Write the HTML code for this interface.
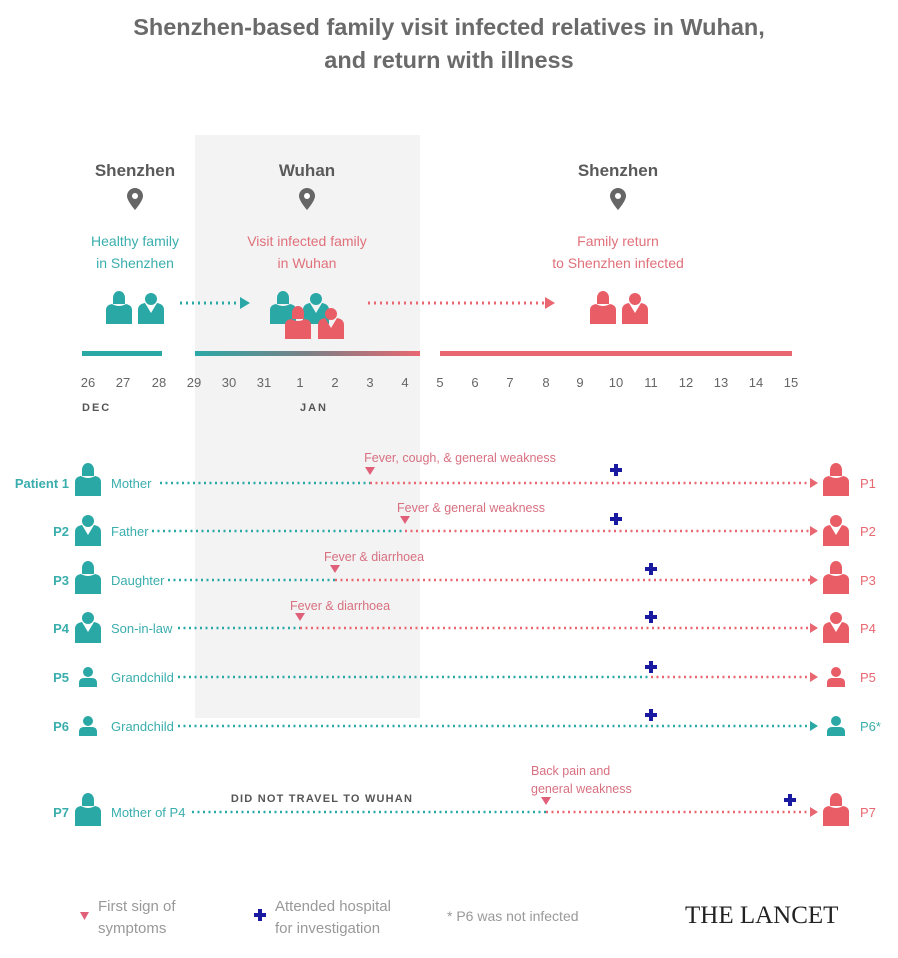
<!DOCTYPE html>
<html><head><meta charset="utf-8"><style>
body{margin:0;background:#fff}
svg{display:block}
text{font-family:"Liberation Sans",sans-serif}
text.serif{font-family:"Liberation Serif",serif}
</style></head><body>
<svg width="898" height="958" viewBox="0 0 898 958" xmlns="http://www.w3.org/2000/svg">
<defs>
<linearGradient id="g" x1="0" x2="1"><stop offset="0" stop-color="#2aa8a6"/><stop offset="0.5" stop-color="#7a7f86"/><stop offset="1" stop-color="#e86770"/></linearGradient>
<g id="pin"><path d="M0,-12a8,8 0 0 1 8,8c0,5 -8,14 -8,14c0,0 -8,-9 -8,-14a8,8 0 0 1 8,-8z" fill="#666"/><circle cx="0" cy="-4" r="3" fill="#fff"/></g>
<g id="woman"><path d="M-6,-10a6,7 0 0 1 12,0v6h-12z"/><path d="M-13,2q0,-5 6,-6q7,4 14,0q6,1 6,6v14h-26z"/></g>
<g id="man"><circle cx="0" cy="-9" r="6"/><path d="M-13,2q0,-6 7,-7l6,10l6,-10q7,1 7,7v14h-26z"/></g>
<g id="child"><circle cx="0" cy="-5" r="5"/><path d="M-9,10v-4q0,-5 5,-5h8q5,0 5,5v4z"/></g>
</defs>
<rect x="195" y="135" width="225" height="583" fill="#f3f3f4"/>
<text x="449" y="35" text-anchor="middle" font-size="23.5" font-weight="bold" fill="#6a6a6a">Shenzhen-based family visit infected relatives in Wuhan,</text>
<text x="449" y="68" text-anchor="middle" font-size="23.5" font-weight="bold" fill="#6a6a6a">and return with illness</text>
<g font-size="17" font-weight="bold" fill="#5a5a5a" text-anchor="middle">
<text x="135" y="176">Shenzhen</text><text x="307" y="176">Wuhan</text><text x="618" y="176">Shenzhen</text></g>
<use href="#pin" x="135" y="200"/><use href="#pin" x="307" y="200"/><use href="#pin" x="618" y="200"/>
<g font-size="14" text-anchor="middle">
<text x="135" y="246" fill="#3aaead">Healthy family</text><text x="135" y="268" fill="#3aaead">in Shenzhen</text>
<text x="307" y="246" fill="#e0707a">Visit infected family</text><text x="307" y="268" fill="#e0707a">in Wuhan</text>
<text x="618" y="246" fill="#e0707a">Family return</text><text x="618" y="268" fill="#e0707a">to Shenzhen infected</text></g>
<g fill="#2aa8a6"><use href="#woman" x="119" y="308"/><use href="#man" x="151" y="308"/><use href="#woman" x="283" y="308"/><use href="#man" x="316" y="308"/></g>
<g fill="#e85d66"><use href="#woman" x="298" y="323"/><use href="#man" x="331" y="323"/><use href="#woman" x="603" y="308"/><use href="#man" x="635" y="308"/></g>
<line x1="180" y1="303" x2="240" y2="303" stroke="#2aa8a6" stroke-width="3" stroke-dasharray="2 4"/><path d="M240,297l10,6l-10,6z" fill="#2aa8a6"/>
<line x1="368" y1="303" x2="545" y2="303" stroke="#e86770" stroke-width="3" stroke-dasharray="2 4"/><path d="M545,297l10,6l-10,6z" fill="#e86770"/>
<rect x="82" y="351" width="80" height="5" fill="#2aa8a6"/>
<rect x="195" y="351" width="225" height="5" fill="url(#g)"/>
<rect x="440" y="351" width="352" height="5" fill="#e86770"/>
<g font-size="13" fill="#666" text-anchor="middle">
<text x="88" y="387">26</text><text x="123" y="387">27</text><text x="159" y="387">28</text><text x="194" y="387">29</text><text x="229" y="387">30</text><text x="264" y="387">31</text><text x="300" y="387">1</text><text x="335" y="387">2</text><text x="370" y="387">3</text><text x="405" y="387">4</text><text x="440" y="387">5</text><text x="475" y="387">6</text><text x="510" y="387">7</text><text x="546" y="387">8</text><text x="580" y="387">9</text><text x="616" y="387">10</text><text x="651" y="387">11</text><text x="686" y="387">12</text><text x="721" y="387">13</text><text x="756" y="387">14</text><text x="791" y="387">15</text></g>
<text x="82" y="411" font-size="11" font-weight="bold" fill="#555" letter-spacing="2">DEC</text>
<text x="300" y="411" font-size="11" font-weight="bold" fill="#555" letter-spacing="2">JAN</text>
<g stroke-width="2.5" stroke-dasharray="2 3.5">
<line x1="160" y1="483" x2="370" y2="483" stroke="#2aa8a6"/><line x1="370" y1="483" x2="810" y2="483" stroke="#e86770"/>
<line x1="152" y1="531" x2="405" y2="531" stroke="#2aa8a6"/><line x1="405" y1="531" x2="810" y2="531" stroke="#e86770"/>
<line x1="168" y1="580" x2="335" y2="580" stroke="#2aa8a6"/><line x1="335" y1="580" x2="810" y2="580" stroke="#e86770"/>
<line x1="178" y1="628" x2="300" y2="628" stroke="#2aa8a6"/><line x1="300" y1="628" x2="810" y2="628" stroke="#e86770"/>
<line x1="178" y1="677" x2="651" y2="677" stroke="#2aa8a6"/><line x1="651" y1="677" x2="810" y2="677" stroke="#e86770"/>
<line x1="178" y1="726" x2="810" y2="726" stroke="#2aa8a6"/>
<line x1="192" y1="812" x2="546" y2="812" stroke="#2aa8a6"/><line x1="546" y1="812" x2="810" y2="812" stroke="#e86770"/>
</g>
<g fill="#e86770"><path d="M810,478l8,5l-8,5z"/><path d="M810,526l8,5l-8,5z"/><path d="M810,575l8,5l-8,5z"/><path d="M810,623l8,5l-8,5z"/><path d="M810,672l8,5l-8,5z"/><path d="M810,807l8,5l-8,5z"/></g>
<path d="M810,721l8,5l-8,5z" fill="#2aa8a6"/>
<g fill="#e0607a"><path d="M365,467h10l-5,8z"/><path d="M400,516h10l-5,8z"/><path d="M330,565h10l-5,8z"/><path d="M295,613h10l-5,8z"/><path d="M541,797h10l-5,8z"/></g>
<g font-size="12.5" fill="#d87080" text-anchor="middle">
<text x="460" y="462">Fever, cough, &amp; general weakness</text>
<text x="471" y="512">Fever &amp; general weakness</text>
<text x="374" y="561">Fever &amp; diarrhoea</text>
<text x="340" y="610">Fever &amp; diarrhoea</text>
<text x="531" y="775" text-anchor="start">Back pain and</text>
<text x="531" y="793" text-anchor="start">general weakness</text></g>
<text x="322" y="802" text-anchor="middle" font-size="11" font-weight="bold" fill="#555" letter-spacing="1.2">DID NOT TRAVEL TO WUHAN</text>
<g fill="#1a1aa0">
<path d="M614,464h4v4h4v4h-4v4h-4v-4h-4v-4h4z"/><path d="M614,513h4v4h4v4h-4v4h-4v-4h-4v-4h4z"/>
<path d="M649,563h4v4h4v4h-4v4h-4v-4h-4v-4h4z"/><path d="M649,611h4v4h4v4h-4v4h-4v-4h-4v-4h4z"/>
<path d="M649,661h4v4h4v4h-4v4h-4v-4h-4v-4h4z"/><path d="M649,709h4v4h4v4h-4v4h-4v-4h-4v-4h4z"/>
<path d="M788,794h4v4h4v4h-4v4h-4v-4h-4v-4h4z"/><path d="M258,909h4v4h4v4h-4v4h-4v-4h-4v-4h4z"/></g>
<g fill="#2aa8a6"><use href="#woman" x="88" y="480"/><use href="#man" x="88" y="530"/><use href="#woman" x="88" y="578"/><use href="#man" x="88" y="627"/><use href="#child" x="88" y="677"/><use href="#child" x="88" y="726"/><use href="#woman" x="88" y="810"/><use href="#child" x="836" y="726"/></g>
<g fill="#e85d66"><use href="#woman" x="836" y="480"/><use href="#man" x="836" y="530"/><use href="#woman" x="836" y="578"/><use href="#man" x="836" y="627"/><use href="#child" x="836" y="677"/><use href="#woman" x="836" y="810"/></g>
<g font-size="13" font-weight="bold" fill="#3aaead" text-anchor="end">
<text x="69" y="488">Patient 1</text><text x="69" y="536">P2</text><text x="69" y="585">P3</text><text x="69" y="633">P4</text><text x="69" y="682">P5</text><text x="69" y="731">P6</text><text x="69" y="817">P7</text></g>
<g font-size="13" fill="#3aaead">
<text x="111" y="488">Mother</text><text x="111" y="536">Father</text><text x="111" y="585">Daughter</text><text x="111" y="633">Son-in-law</text><text x="111" y="682">Grandchild</text><text x="111" y="731">Grandchild</text><text x="111" y="817">Mother of P4</text>
<text x="860" y="731">P6*</text></g>
<g font-size="13" fill="#e86770"><text x="860" y="488">P1</text><text x="860" y="536">P2</text><text x="860" y="585">P3</text><text x="860" y="633">P4</text><text x="860" y="682">P5</text><text x="860" y="817">P7</text></g>
<path d="M80,912h9l-4.5,8z" fill="#e0607a"/>
<g font-size="15" fill="#999"><text x="98" y="911">First sign of</text><text x="98" y="933">symptoms</text>
<text x="275" y="911">Attended hospital</text><text x="275" y="933">for investigation</text>
<text x="447" y="921" font-size="14">* P6 was not infected</text></g>
<text class="serif" x="685" y="923" font-size="25" fill="#222">THE LANCET</text>
</svg>
</body></html>
